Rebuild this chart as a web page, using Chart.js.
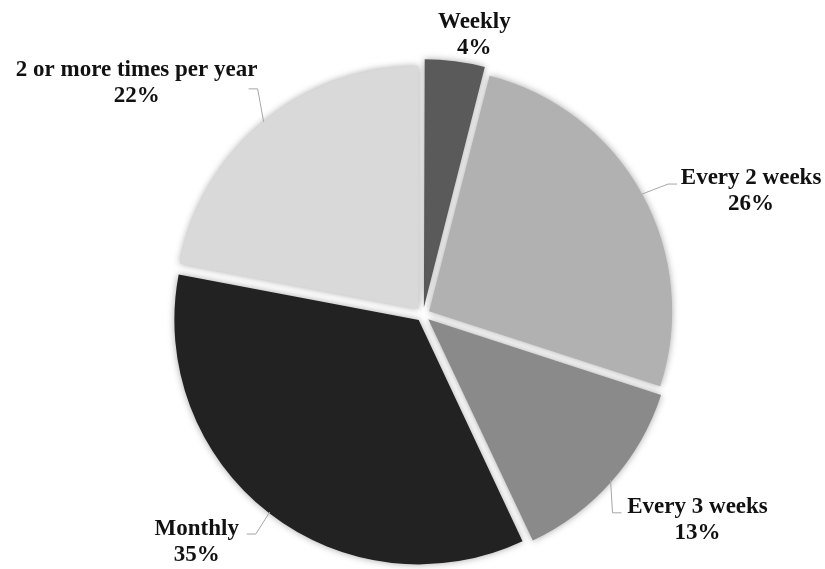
<!DOCTYPE html>
<html><head><meta charset="utf-8">
<script src="https://cdn.jsdelivr.net/npm/chart.js@4.4.1/dist/chart.umd.min.js"></script>
<style>html,body{margin:0;padding:0;background:#fff}</style>
</head><body>
<canvas id="c" width="825" height="569"></canvas>
<script>
const categories = ['Weekly', 'Every 2 weeks', 'Every 3 weeks', 'Monthly', '2 or more times per year'];
const shares = [4, 26, 13, 35, 22];
const percentLabels = ['4%', '26%', '13%', '35%', '22%'];
const sliceColors = ['#5a5a5a', '#b1b1b1', '#8a8a8a', '#222222', '#d9d9d9'];

// label block placement: offset of block centre from the slice's outer edge point,
// and leader attach point relative to block centre (null = no leader)
const labelPlacement = [
  {dx: 20, dy: -25, attach: null},
  {dx: 109, dy: 3, attach: {x: -74, y: -13, side: -1}},
  {dx: 87, dy: 46, attach: {x: -76, y: -13, side: -1}},
  {dx: -73, dy: 36, attach: {x: 50, y: -14, side: 1}},
  {dx: -127, dy: -33, attach: {x: 112, y: 0, side: 1}}
];

const shadowPlugin = {
  id: 'shadow',
  beforeDatasetsDraw(chart) {
    const ctx = chart.ctx;
    ctx.save();
    ctx.shadowColor = 'rgba(0,0,0,0.35)';
    ctx.shadowBlur = 7;
    ctx.shadowOffsetX = 0;
    ctx.shadowOffsetY = 0;
  },
  afterDatasetsDraw(chart) {
    chart.ctx.restore();
  }
};

const labelPlugin = {
  id: 'pieLabels',
  afterDraw(chart) {
    const ctx = chart.ctx;
    const meta = chart.getDatasetMeta(0);
    ctx.save();
    ctx.font = 'bold 23px "Liberation Serif", "Times New Roman", serif';
    ctx.textAlign = 'center';
    ctx.textBaseline = 'alphabetic';
    meta.data.forEach((arc, i) => {
      const p = arc.getProps(['x', 'y', 'startAngle', 'endAngle', 'outerRadius'], true);
      const off = (arc.options.offset || 0) / 4;
      const a = (p.startAngle + p.endAngle) / 2;
      const ex = p.x + (p.outerRadius + off) * Math.cos(a);
      const ey = p.y + (p.outerRadius + off) * Math.sin(a);
      const lp = labelPlacement[i];
      const cx = ex + lp.dx, cy = ey + lp.dy;
      if (lp.attach) {
        const ax = cx + lp.attach.x, ay = cy + lp.attach.y;
        const bx = ax + lp.attach.side * 9;
        ctx.strokeStyle = '#a6a6a6';
        ctx.lineWidth = 1;
        ctx.beginPath();
        ctx.moveTo(ex, ey);
        ctx.lineTo(bx, ay);
        ctx.lineTo(ax, ay);
        ctx.stroke();
      }
      ctx.fillStyle = '#111111';
      ctx.fillText(categories[i], cx, cy - 13);
      ctx.fillText(percentLabels[i], cx, cy + 13);
    });
    ctx.restore();
  }
};

new Chart(document.getElementById('c'), {
  type: 'pie',
  data: {
    labels: categories,
    datasets: [{
      data: shares,
      backgroundColor: sliceColors,
      borderWidth: 0,
      offset: 28
    }]
  },
  options: {
    responsive: false,
    animation: false,
    radius: 243,
    layout: {padding: {left: 21, right: 0, top: 60, bottom: 0}},
    plugins: {legend: {display: false}, tooltip: {enabled: false}}
  },
  plugins: [shadowPlugin, labelPlugin]
});
</script>
</body></html>
